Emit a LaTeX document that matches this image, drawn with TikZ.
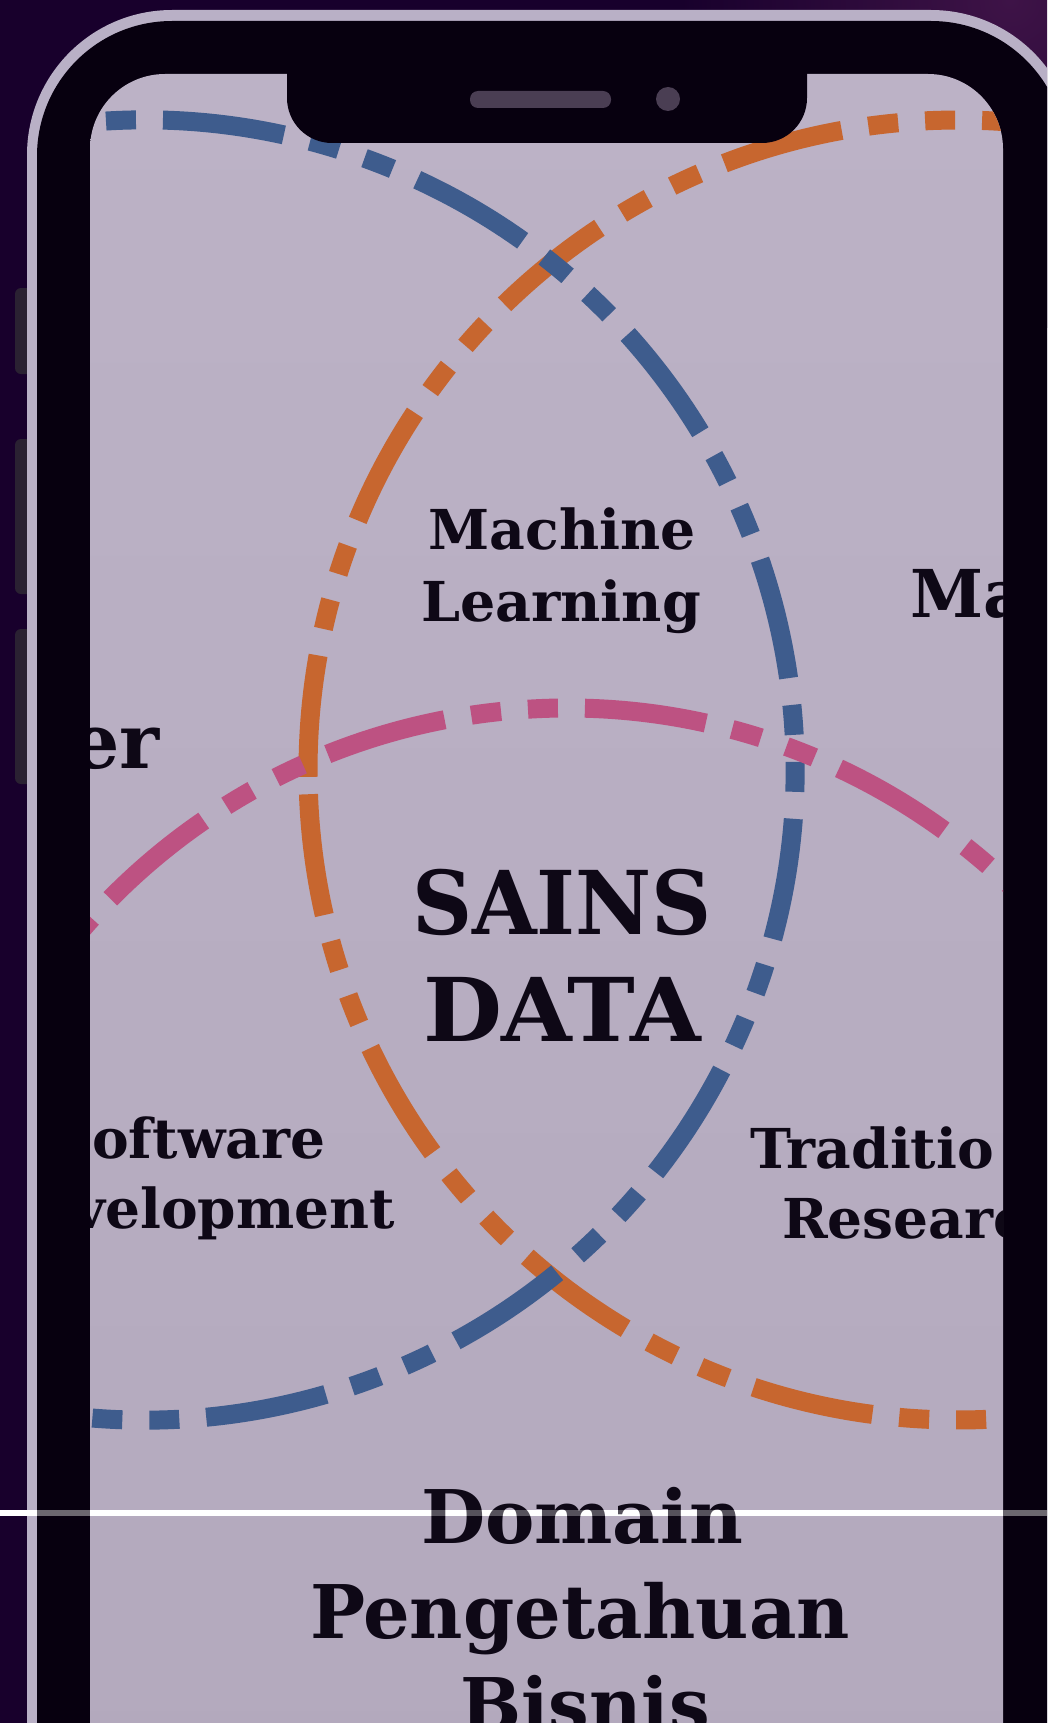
\documentclass[tikz,border=0pt]{standalone}
\usepackage{fontspec}
\setmainfont{DejaVu Serif}
\usepackage{graphicx}
\definecolor{bgc}{HTML}{18002C}
\definecolor{glow}{HTML}{3E1347}
\definecolor{framec}{HTML}{B9B0C6}
\definecolor{bezel}{HTML}{07000F}
\definecolor{btnc}{HTML}{2A2132}
\definecolor{scrtop}{HTML}{BCB2C6}
\definecolor{scrbot}{HTML}{B2A8BC}
\definecolor{spk}{HTML}{4A3E53}
\definecolor{bluec}{HTML}{3E5C8D}
\definecolor{orangec}{HTML}{C7662F}
\definecolor{pinkc}{HTML}{BD5282}
\definecolor{ink}{HTML}{0E0816}
\definecolor{linegray}{HTML}{6C6870}
\newlength\fitlen
\newcommand\hfit[2]{\settowidth\fitlen{#2}\scalebox{\fpeval{#1/\fitlen}}[1]{#2}}
\tikzset{
  txt/.style={inner sep=0pt, outer sep=0pt, text=ink},
  fA/.style={txt, font=\fontsize{55}{60}\selectfont\bfseries},
  fMa/.style={txt, font=\fontsize{66}{70}\selectfont\bfseries},
  fEr/.style={txt, font=\fontsize{76}{80}\selectfont\bfseries},
  fS/.style={txt, font=\fontsize{88}{90}\selectfont\bfseries},
  fD/.style={txt, font=\fontsize{74}{80}\selectfont\bfseries},
  venn/.style={line width=19pt, dash pattern=on 122pt off 27pt on 30pt off 27pt on 30pt off 27pt},
  hline/.style={line width=6pt},
}
\begin{document}
\begin{tikzpicture}[x=1pt,y=-1pt]
\useasboundingbox (0,0) rectangle (1047,1723);
\clip (0,0) rectangle (1047,1723);
% background
\fill[bgc] (0,0) rectangle (1047,1723);
\shade[inner color=glow, outer color=bgc] (1010,0) circle[radius=330];
% side buttons
\fill[btnc, rounded corners=6pt] (15,288) rectangle (34,374);
\fill[btnc, rounded corners=6pt] (15,439) rectangle (34,594);
\fill[btnc, rounded corners=6pt] (15,629) rectangle (34,784);
% phone frame and bezel
\fill[framec, rounded corners=145pt] (27,2000) -- (27,10) -- (1076,10) -- (1076,2000) -- cycle;
\fill[bezel, rounded corners=135pt] (37,2000) -- (37,21) -- (1066,21) -- (1066,2000) -- cycle;
% screen
\shade[top color=scrtop, bottom color=scrbot, rounded corners=75pt] (90,2000) -- (90,74) -- (1003,74) -- (1003,2000) -- cycle;
\begin{scope}
\clip[rounded corners=75pt] (90,2000) -- (90,74) -- (1003,74) -- (1003,2000) -- cycle;
\draw[venn, orangec] (958,770) ++(179.4:650) arc[start angle=179.4, end angle=539.4, radius=650];
\draw[venn, bluec] (145,770) ++(202.04:650) arc[start angle=202.04, end angle=562.04, radius=650];
\draw[venn, pinkc] (567,1350) ++(83.84:642) arc[start angle=83.84, end angle=443.84, radius=642];
\draw[hline, white] (90,1513) -- (1003,1513);
\node[fA, anchor=base] (ml1) at (562,549) {\hfit{267}{Machine}};
\node[fA, anchor=base] (ml2) at (561,621) {\hfit{280}{Learning}};
\node[fMa, anchor=base west] (ma) at (910,617) {Ma};
\node[fEr, anchor=base east] (er) at (160,768) {er};
\node[fS, anchor=base] (s1) at (562,934) {\hfit{300}{SAINS}};
\node[fS, anchor=base] (s2) at (562,1041) {\hfit{278}{DATA}};
\node[fA, anchor=base east] (sw1) at (325,1158) {oftware};
\node[fA, anchor=base east] (sw2) at (395,1228) {velopment};
\node[fA, anchor=base west] (tr1) at (750,1168) {Traditio};
\node[fA, anchor=base west] (tr2) at (782,1238) {Researc};
\node[fD, anchor=base] (d1) at (582,1543) {\hfit{322}{Domain}};
\node[fD, anchor=base] (d2) at (580,1638) {\hfit{540}{Pengetahuan}};
\node[fD, anchor=base] (d3) at (585,1731) {\hfit{250}{Bisnis}};
\draw[hline, white, opacity=0.3] (90,1513) -- (1003,1513);
\end{scope}
% notch
\fill[bezel, rounded corners=45pt] (287,25) -- (287,143) -- (807,143) -- (807,25) -- cycle;
\fill[spk, rounded corners=8pt] (470,91) rectangle (611,108);
\fill[spk] (668,99) circle[radius=12];
% horizontal line outside the screen
\draw[hline, white] (0,1513) -- (37,1513);
\draw[hline, linegray] (37,1513) -- (90,1513);
\draw[hline, linegray] (1003,1513) -- (1047,1513);
\end{tikzpicture}
\end{document}
